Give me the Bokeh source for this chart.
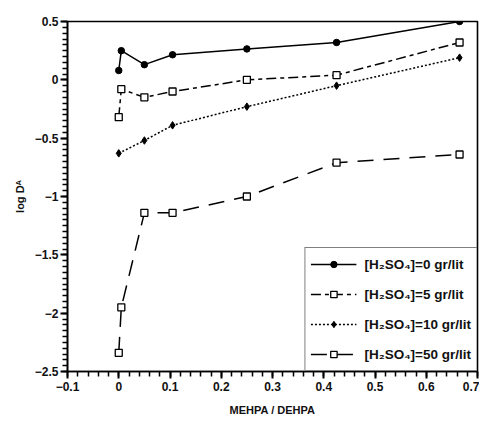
import numpy as np
from bokeh.plotting import figure
from bokeh.models import Range1d, Legend, LegendItem, FixedTicker
from bokeh.embed import file_html
from bokeh.resources import INLINE

# data
x_0 = [0.0, 0.005, 0.05, 0.105, 0.25, 0.425, 0.665]
y_0 = [0.08, 0.25, 0.13, 0.215, 0.265, 0.32, 0.50]
x_5 = [0.0, 0.005, 0.05, 0.105, 0.25, 0.425, 0.665]
y_5 = [-0.32, -0.08, -0.15, -0.10, 0.0, 0.04, 0.32]
x_10 = [0.0, 0.05, 0.105, 0.25, 0.425, 0.665]
y_10 = [-0.63, -0.52, -0.39, -0.23, -0.05, 0.19]
x_50 = [0.0, 0.005, 0.05, 0.105, 0.25, 0.425, 0.665]
y_50 = [-2.34, -1.95, -1.14, -1.14, -1.0, -0.71, -0.64]
labels = ["[H₂SO₄]=0 gr/lit", "[H₂SO₄]=5 gr/lit", "[H₂SO₄]=10 gr/lit", "[H₂SO₄]=50 gr/lit"]
x_ticks = [-0.1, 0.0, 0.1, 0.2, 0.3, 0.4, 0.5, 0.6, 0.7]
y_ticks = [-2.5, -2.0, -1.5, -1.0, -0.5, 0.0, 0.5]

FONT = "Liberation Sans"

p = figure(width=479, height=424, output_backend="svg", toolbar_location=None,
           x_range=Range1d(-0.1, 0.7), y_range=Range1d(-2.5, 0.5),
           min_border_left=67, min_border_top=21, min_border_right=2, min_border_bottom=53)
p.xgrid.visible = False
p.ygrid.visible = False
p.outline_line_color = "black"
p.outline_line_width = 1.6
p.background_fill_color = "white"

x_minor = [round(v, 3) for v in np.arange(-0.1, 0.7001, 0.02)]
y_minor = [round(v, 3) for v in np.arange(-2.5, 0.5001, 0.05)]
p.xaxis.ticker = FixedTicker(ticks=x_ticks, minor_ticks=x_minor)
p.yaxis.ticker = FixedTicker(ticks=y_ticks, minor_ticks=y_minor)
for ax in (p.xaxis, p.yaxis):
    ax.axis_line_width = 1.6
    ax.major_tick_line_width = 2
    ax.minor_tick_line_width = 1.5
    ax.major_tick_line_color = "black"
    ax.minor_tick_line_color = "black"
    ax.major_tick_out = 7
    ax.major_tick_in = 0
    ax.minor_tick_out = 5
    ax.minor_tick_in = 0
    ax.major_label_text_font = FONT
    ax.major_label_text_font_style = "bold"
    ax.major_label_text_font_size = "12px"
    ax.major_label_text_color = "#111111"
    ax.axis_label_text_font = FONT
    ax.axis_label_text_font_style = "bold"
    ax.axis_label_text_font_size = "11px"
    ax.axis_label_text_color = "#111111"
p.xaxis.major_label_standoff = 3
p.yaxis.major_label_standoff = 2
p.xaxis.axis_label = "MEHPA / DEHPA"
p.xaxis.axis_label_standoff = 10
p.yaxis.axis_label = "log Dᴬ"
p.yaxis.axis_label_standoff = 6

lw = 1.5
l0 = p.line(x_0, y_0, line_color="black", line_width=lw)
m0 = p.scatter(x_0, y_0, marker="circle", size=6.5, fill_color="black", line_color="black")
l1 = p.line(x_5, y_5, line_color="black", line_width=lw, line_dash="10 4 4 4")
m1 = p.scatter(x_5, y_5, marker="square", size=7, fill_color="white", line_color="black", line_width=1.3)
l2 = p.line(x_10, y_10, line_color="black", line_width=lw, line_dash="2 2")
m2 = p.scatter(x_10, y_10, marker="diamond", size=7.5, fill_color="black", line_color="black")
l3 = p.line(x_50, y_50, line_color="black", line_width=lw, line_dash="16 10")
m3 = p.scatter(x_50, y_50, marker="square", size=7, fill_color="white", line_color="black", line_width=1.3)

legend = Legend(items=[
    LegendItem(label=labels[0], renderers=[l0, m0]),
    LegendItem(label=labels[1], renderers=[l1, m1]),
    LegendItem(label=labels[2], renderers=[l2, m2]),
    LegendItem(label=labels[3], renderers=[l3, m3]),
], location="bottom_right")
legend.margin = 0
legend.padding = 5
legend.spacing = 8
legend.label_height = 22
legend.glyph_height = 16
legend.glyph_width = 46
legend.label_standoff = 8
legend.border_line_color = "black"
legend.border_line_width = 1.6
legend.label_text_font = FONT
legend.label_text_font_style = "bold"
legend.label_text_font_size = "13.5px"
legend.label_text_color = "#111111"
legend.background_fill_alpha = 1
p.add_layout(legend)

open("out.html", "w").write(file_html(p, INLINE))
